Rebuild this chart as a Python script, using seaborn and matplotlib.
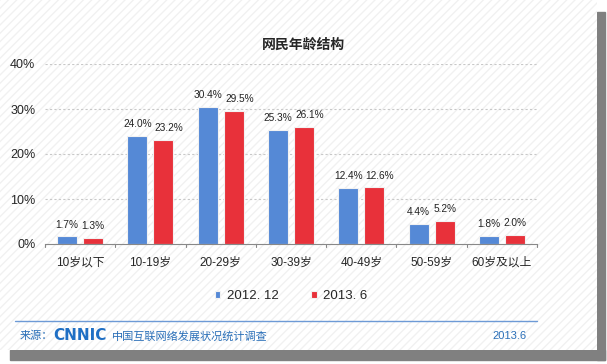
import pandas as pd
import matplotlib
matplotlib.use("Agg")
import matplotlib.pyplot as plt
import seaborn as sns
from matplotlib.patches import Rectangle

# 数据
ages = ["10岁以下", "10-19岁", "20-29岁", "30-39岁", "40-49岁", "50-59岁", "60岁及以上"]
v2012 = [1.7, 24.0, 30.4, 25.3, 12.4, 4.4, 1.8]
v2013 = [1.3, 23.2, 29.5, 26.1, 12.6, 5.2, 2.0]
series = ["2012. 12", "2013. 6"]
yticks = [0, 10, 20, 30, 40]

df = pd.DataFrame({
    "age": ages * 2,
    "val": v2012 + v2013,
    "period": [series[0]] * len(ages) + [series[1]] * len(ages),
})

sns.set_style("white")
plt.rcParams["font.family"] = ["Liberation Sans", "Noto Sans CJK SC", "DejaVu Sans"]

fig = plt.figure(figsize=(6.07, 3.64), dpi=100)
fig.patch.set_facecolor("white")

# 阴影边框
fig.patches.append(Rectangle((597 / 607, 4 / 364), 8 / 607, 1 - 16 / 364,
                             transform=fig.transFigure, color="#808080", zorder=-2))
fig.patches.append(Rectangle((10 / 607, 4 / 364), 595 / 607, 10 / 364,
                             transform=fig.transFigure, color="#808080", zorder=-2))
# 斜线底纹
fig.patches.append(Rectangle((0, 14 / 364), 597 / 607, 1 - 14 / 364, transform=fig.transFigure,
                             facecolor="white", edgecolor="#f1f1f1", hatch="////", lw=0, zorder=-1))

ax = fig.add_axes([45 / 607, 1 - 244 / 364, 492 / 607, 180 / 364])
ax.set_facecolor("none")

pal = {series[0]: "#5589d6", series[1]: "#e8313a"}
sns.barplot(data=df, x="age", y="val", hue="period", palette=pal, width=0.74, gap=0.23,
            edgecolor="#f2f2f2", linewidth=0.8, saturation=1, ax=ax, legend=True)

for k, cont in enumerate(ax.containers):
    for bar in cont:
        h = bar.get_height()
        lab = f"{h:.1f}%"
        dx = 0.08 if (k == 1 and len(lab) >= 5) else 0
        ax.text(bar.get_x() + bar.get_width() / 2 + dx, h + 1.5, lab,
                ha="center", va="bottom", fontsize=7.3, color="#222222")

ax.set_ylim(0, 40)
ax.set_xlim(-0.5, 6.5)
ax.set_yticks(yticks)
ax.set_yticklabels([f"{t}%" for t in yticks], fontsize=9)
for t in yticks[1:]:
    ax.axhline(t, color="#c8c8c8", lw=0.8, ls=(0, (2, 2)), zorder=0)
ax.set_xlabel("")
ax.set_ylabel("")
ax.tick_params(axis="x", labelsize=8.5, length=0, pad=9)
ax.tick_params(axis="y", length=0, pad=7)
for s in ["left", "right", "top"]:
    ax.spines[s].set_visible(False)
ax.spines["bottom"].set_color("#888888")
for b in range(8):
    ax.plot([b - 0.5, b - 0.5], [0, -0.7], color="#888888", lw=0.8, clip_on=False)

leg = ax.legend(loc="upper center", bbox_to_anchor=(0.5, -0.19), ncol=2, frameon=False,
                fontsize=9.5, handlelength=0.4, handleheight=0.4, columnspacing=2.5, handletextpad=0.5)

fig.text(0.5, 1 - 45 / 364, "网民年龄结构", ha="center", va="center", fontsize=10, fontweight="bold")

# 页脚
fig.add_artist(plt.Line2D([15 / 607, 537 / 607], [1 - 321 / 364] * 2, color="#6d9ad6", lw=1))
fig.text(20 / 607, 1 - 336 / 364, "来源：", fontsize=8, color="#2a6fb8", va="center")
fig.text(53 / 607, 1 - 336 / 364, "CNNIC", fontsize=11, color="#1f6fc4", va="center",
         fontweight="bold", family="DejaVu Sans")
fig.text(112 / 607, 1 - 336 / 364, "中国互联网络发展状况统计调查", fontsize=8, color="#2a6fb8", va="center")
fig.text(527 / 607, 1 - 336 / 364, "2013.6", fontsize=8, color="#2a6fb8", va="center", ha="right")

fig.savefig("out.png", dpi=100)
